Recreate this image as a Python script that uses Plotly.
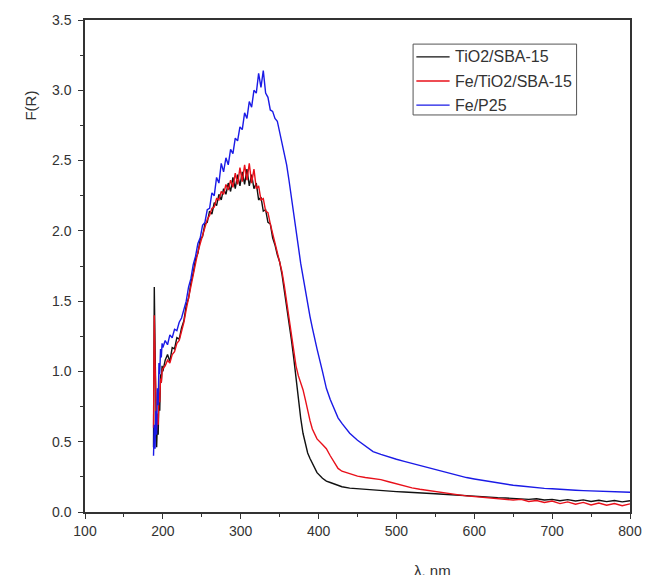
import plotly.graph_objects as go

# wavelength grid (nm)
wavelength = [188, 189, 190, 191, 192, 193, 194, 195, 196, 197, 198, 199, 200,
              203, 206, 209, 212, 215, 218, 221, 224, 227, 230, 233, 236, 239, 242, 245, 248,
              251, 254, 257, 260, 263, 266, 269, 272, 275, 278, 281, 284, 287, 290, 293, 296,
              299, 302, 305, 308, 311, 314, 317, 320, 323, 326, 329, 332, 335, 338, 341, 344,
              347, 350, 353, 356, 359, 362, 365, 368, 371, 374, 377, 380, 383, 386, 389, 392,
              395, 398,
              405, 410, 415, 420, 425, 430, 440, 450, 460, 470, 480, 490, 500, 510, 520, 530,
              540, 550, 560, 570, 580, 590, 600, 610, 620, 630, 640, 650, 660, 670, 680, 690,
              700, 710, 720, 730, 740, 750, 760, 770, 780, 790, 800]

tio2_sba15 = [0.46, 1.60, 1.15, 0.72, 0.46, 0.64, 0.55, 0.82, 0.72, 0.98, 0.92, 1.04, 1.00,
              1.08, 1.12, 1.07, 1.17, 1.16, 1.24, 1.23, 1.31, 1.36, 1.47, 1.52, 1.63, 1.70, 1.80,
              1.84, 1.94, 1.96, 2.05, 2.06, 2.14, 2.12, 2.20, 2.18, 2.26, 2.22, 2.30, 2.26, 2.34,
              2.28, 2.38, 2.30, 2.40, 2.32, 2.42, 2.33, 2.44, 2.32, 2.40, 2.30, 2.34, 2.22, 2.24,
              2.14, 2.15, 2.06, 2.05, 1.95, 1.90, 1.83, 1.78, 1.69, 1.58, 1.46, 1.36, 1.23, 1.10,
              0.95, 0.80, 0.67, 0.56, 0.48, 0.42, 0.38, 0.35, 0.31, 0.28,
              0.24, 0.22, 0.21, 0.20, 0.19, 0.18, 0.17, 0.165, 0.16, 0.155, 0.15, 0.147, 0.145,
              0.142, 0.14, 0.137, 0.133, 0.13, 0.126, 0.122, 0.118, 0.115, 0.112, 0.108, 0.105,
              0.102, 0.10, 0.097, 0.095, 0.09, 0.094, 0.085, 0.09, 0.08, 0.088, 0.078, 0.086,
              0.075, 0.084, 0.074, 0.082, 0.072, 0.08]

fe_tio2_sba15 = [0.60, 1.40, 1.05, 0.80, 0.58, 0.70, 0.62, 0.85, 0.78, 0.95, 0.92, 1.00, 1.02,
                 1.04, 1.08, 1.06, 1.12, 1.14, 1.20, 1.22, 1.28, 1.35, 1.44, 1.52, 1.61, 1.69, 1.78,
                 1.85, 1.91, 1.97, 2.02, 2.08, 2.11, 2.16, 2.17, 2.23, 2.22, 2.28, 2.26, 2.33, 2.29,
                 2.36, 2.31, 2.41, 2.33, 2.45, 2.35, 2.47, 2.36, 2.48, 2.34, 2.44, 2.30, 2.32, 2.22,
                 2.23, 2.14, 2.13, 2.05, 1.98, 1.92, 1.86, 1.79, 1.71, 1.61, 1.50, 1.38, 1.26, 1.14,
                 1.04, 0.97, 0.92, 0.87, 0.80, 0.72, 0.65, 0.59, 0.55, 0.52,
                 0.48, 0.45, 0.40, 0.35, 0.31, 0.29, 0.27, 0.255, 0.245, 0.24, 0.23, 0.215, 0.20,
                 0.185, 0.172, 0.162, 0.153, 0.145, 0.138, 0.13, 0.122, 0.115, 0.11, 0.105, 0.10,
                 0.096, 0.092, 0.085, 0.09, 0.075, 0.082, 0.068, 0.078, 0.06, 0.072, 0.055, 0.068,
                 0.05, 0.064, 0.048, 0.06, 0.045, 0.058]

fe_p25 = [0.40, 0.62, 0.45, 0.72, 0.55, 0.88, 0.76, 1.06, 0.98, 1.16, 1.10, 1.20, 1.17,
          1.22, 1.19, 1.26, 1.24, 1.30, 1.29, 1.35, 1.38, 1.45, 1.50, 1.60, 1.66, 1.76, 1.82,
          1.91, 1.95, 2.04, 2.06, 2.15, 2.16, 2.27, 2.25, 2.38, 2.34, 2.48, 2.42, 2.52, 2.47,
          2.58, 2.55, 2.66, 2.64, 2.74, 2.72, 2.84, 2.80, 2.92, 2.88, 3.00, 2.98, 3.12, 3.02,
          3.14, 2.98, 2.95, 2.86, 2.85, 2.80, 2.78, 2.70, 2.63, 2.55, 2.47, 2.36, 2.25, 2.13,
          2.01, 1.89, 1.77, 1.67, 1.57, 1.47, 1.39, 1.31, 1.23, 1.16,
          1.00, 0.88, 0.80, 0.73, 0.67, 0.63, 0.56, 0.51, 0.47, 0.43, 0.41, 0.39, 0.375,
          0.36, 0.345, 0.33, 0.315, 0.30, 0.285, 0.27, 0.255, 0.245, 0.235, 0.225, 0.215,
          0.205, 0.198, 0.19, 0.185, 0.178, 0.172, 0.168, 0.165, 0.16, 0.158, 0.155, 0.152,
          0.15, 0.148, 0.146, 0.144, 0.142, 0.14]

series_names = ["TiO2/SBA-15", "Fe/TiO2/SBA-15", "Fe/P25"]
series_values = [tio2_sba15, fe_tio2_sba15, fe_p25]
series_colors = ["#111111", "#e8101a", "#1a1ae6"]

x_ticks = [100, 200, 300, 400, 500, 600, 700, 800]
y_ticks = [0.0, 0.5, 1.0, 1.5, 2.0, 2.5, 3.0, 3.5]

FONT = "Liberation Sans, Arial"
INK = "#333333"

fig = go.Figure()
for name, vals, col in zip(series_names, series_values, series_colors):
    fig.add_trace(go.Scatter(x=wavelength, y=vals, mode="lines", name=name,
                             line=dict(color=col, width=1.4), showlegend=False))

axis_common = dict(showline=True, linecolor=INK, linewidth=1.5, mirror=True,
                   ticks="outside", ticklen=5, tickwidth=1.2, tickcolor=INK,
                   showgrid=False, zeroline=False,
                   tickfont=dict(family=FONT, size=14, color=INK))

fig.update_xaxes(range=[100, 800], tickvals=x_ticks,
                 minor=dict(ticks="outside", ticklen=3, tickwidth=1, tickcolor=INK, dtick=50),
                 **axis_common)
fig.update_yaxes(range=[0, 3.5], tickvals=y_ticks, tickformat=".1f", ticklabelstandoff=4,
                 minor=dict(ticks="outside", ticklen=3, tickwidth=1, tickcolor=INK, dtick=0.25),
                 **axis_common)

# legend box (drawn in paper coordinates)
shapes = [dict(type="rect", xref="paper", yref="paper", x0=0.602, x1=0.902, y0=0.807, y1=0.951,
               line=dict(color="#555555", width=1), fillcolor="white", layer="above")]
annotations = []
row_y = [0.925, 0.876, 0.827]
for name, col, ry in zip(series_names, series_colors, row_y):
    shapes.append(dict(type="line", xref="paper", yref="paper", x0=0.608, x1=0.669, y0=ry, y1=ry,
                       line=dict(color=col, width=1.4), layer="above"))
    annotations.append(dict(text=name, xref="paper", yref="paper", x=0.676, y=ry,
                            xanchor="left", yanchor="middle", showarrow=False,
                            font=dict(family=FONT, size=16, color=INK)))

annotations += [
    dict(text="F(R)", xref="paper", yref="paper", x=-0.1, y=0.825,
         showarrow=False, textangle=-90, font=dict(family=FONT, size=15, color=INK),
         xanchor="center", yanchor="middle"),
    dict(text="λ, nm", xref="paper", yref="paper", x=0.637, y=-0.118,
         showarrow=False, font=dict(family=FONT, size=15, color=INK),
         xanchor="center", yanchor="middle"),
]

fig.update_layout(
    width=654, height=575,
    margin=dict(l=85, r=16, t=20, b=63),
    paper_bgcolor="white", plot_bgcolor="white",
    font=dict(family=FONT, size=14, color=INK),
    showlegend=False,
    shapes=shapes,
    annotations=annotations,
)

fig.write_html("out.html")
